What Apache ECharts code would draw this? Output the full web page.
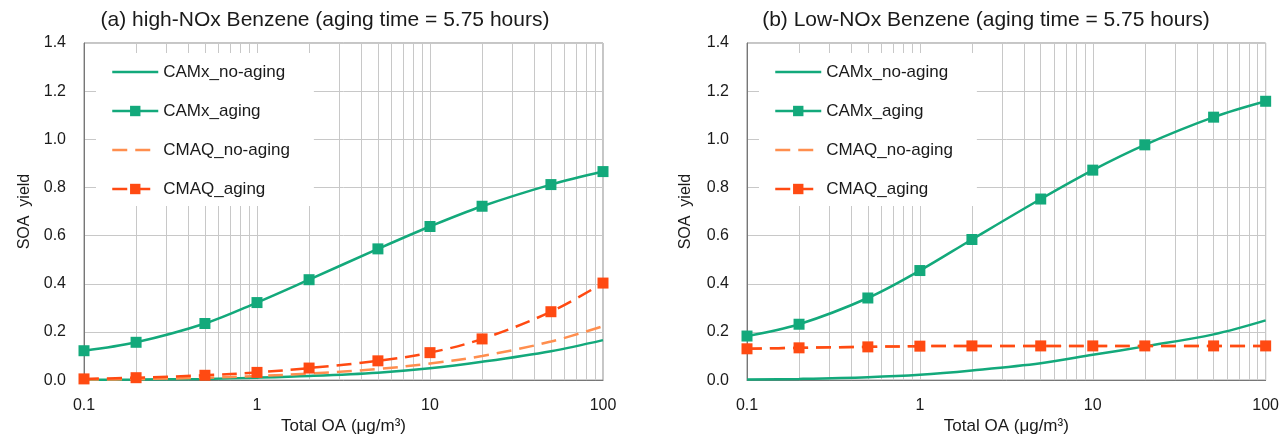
<!DOCTYPE html>
<html>
<head>
<meta charset="utf-8">
<script src="https://cdn.jsdelivr.net/npm/echarts@6/dist/echarts.min.js"></script>
<style>
  html, body {margin: 0; padding: 0; background: #fff;}
  #chart {width: 1282px; height: 440px;}
</style>
</head>
<body>
<div id="chart"></div>
<script>
  // total OA (ug/m3) sample points
  const oaValues = [0.1, 0.2, 0.5, 1, 2, 5, 10, 20, 50, 100];
  const minorGrid = [0.2, 0.3, 0.4, 0.5, 0.6, 0.7, 0.8, 0.9, 2, 3, 4, 5, 6, 7, 8, 9, 20, 30, 40, 50, 60, 70, 80, 90];
  const xTicks = ['0.1', '1', '10', '100'];
  const seriesNames = ['CAMx_no-aging', 'CAMx_aging', 'CMAQ_no-aging', 'CMAQ_aging'];
  const titles = [
    '(a) high-NOx Benzene (aging time = 5.75 hours)',
    '(b) Low-NOx Benzene (aging time = 5.75 hours)',
  ];

  // (a) high-NOx
  const highCamxNoAging = [0.001, 0.002, 0.005, 0.01, 0.017, 0.031, 0.049, 0.076, 0.12, 0.166];
  const highCamxAging = [0.122, 0.157, 0.235, 0.322, 0.417, 0.545, 0.638, 0.722, 0.812, 0.866];
  const highCmaqNoAging = [0.002, 0.004, 0.01, 0.017, 0.027, 0.046, 0.069, 0.1, 0.16, 0.224];
  const highCmaqAging = [0.005, 0.01, 0.02, 0.032, 0.05, 0.08, 0.114, 0.171, 0.284, 0.403];

  // (b) low-NOx
  const lowCamxNoAging = [0.002, 0.005, 0.012, 0.022, 0.04, 0.07, 0.105, 0.14, 0.19, 0.248];
  const lowCamxAging = [0.183, 0.232, 0.341, 0.455, 0.584, 0.752, 0.872, 0.977, 1.092, 1.158];
  const lowCmaqNoAging = [0.13, 0.134, 0.138, 0.141, 0.142, 0.142, 0.142, 0.142, 0.142, 0.142];
  const lowCmaqAging = [0.13, 0.134, 0.138, 0.141, 0.142, 0.142, 0.142, 0.142, 0.142, 0.142];

  const FONT = '"Liberation Sans", Arial, sans-serif';
  const GREEN = '#13a97b';
  const LIGHT_ORANGE = '#ff8e4e';
  const RED_ORANGE = '#ff4a12';
  const GRID_COLOR = '#c8c8c8';

  const pairs = (ys) => oaValues.map((x, i) => [x, ys[i]]);

  const panels = [
    {left: 84, right: 679, titleX: 320, nameGap: 51,
      data: [highCamxNoAging, highCamxAging, highCmaqNoAging, highCmaqAging]},
    {left: 747, right: 16, titleX: 981, nameGap: 53,
      data: [lowCamxNoAging, lowCamxAging, lowCmaqNoAging, lowCmaqAging]},
  ];

  const styles = [
    {color: GREEN, type: 'solid', symbol: 'none'},
    {color: GREEN, type: 'solid', symbol: 'rect'},
    {color: LIGHT_ORANGE, type: [15, 8], symbol: 'none'},
    {color: RED_ORANGE, type: [15, 8], symbol: 'rect'},
  ];

  const option = {
    animation: false,
    backgroundColor: '#fff',
    textStyle: {fontFamily: FONT},
    title: panels.map((p, i) => ({
      text: titles[i],
      left: p.titleX,
      top: 5,
      textAlign: 'center',
      textStyle: {fontFamily: FONT, fontSize: 21, fontWeight: 'normal', color: '#1a1a1a'},
    })),
    legend: panels.map((p) => ({
      // hide the symbol of the plain-line series in the legend
      data: seriesNames.map((name, si) => (
        styles[si].symbol === 'none' ? {name, itemStyle: {opacity: 0}} : {name}
      )),
      orient: 'vertical',
      left: p.left + 12,
      top: 53,
      padding: [9, 24, 7, 15],
      itemWidth: 46,
      itemHeight: 13,
      itemGap: 19,
      backgroundColor: '#fff',
      selectedMode: false,
      lineStyle: {width: 2.5},
      textStyle: {fontFamily: FONT, fontSize: 17, color: '#1a1a1a', lineHeight: 20},
      z: 4,
    })),
    grid: panels.map((p) => ({
      left: p.left, right: p.right, top: 43, bottom: 45,
      show: true, borderColor: '#8c8c8c', borderWidth: 1,
    })),
    xAxis: panels.map((p, i) => ({
      type: 'log',
      logBase: 10,
      gridIndex: i,
      min: 0.1,
      max: 100,
      name: 'Total OA (μg/m³)',
      nameLocation: 'middle',
      nameGap: 24,
      nameTextStyle: {fontFamily: FONT, fontSize: 17, color: '#1a1a1a'},
      axisLine: {lineStyle: {color: '#777', width: 1}},
      axisTick: {show: false},
      axisLabel: {
        fontFamily: FONT, fontSize: 16, color: '#1a1a1a', margin: 17,
        formatter: (v) => xTicks.find((t) => Math.abs(parseFloat(t) - v) < 1e-6 * v) || '',
      },
      splitLine: {show: true, lineStyle: {color: GRID_COLOR, width: 1}},
    })),
    yAxis: panels.map((p, i) => ({
      type: 'value',
      gridIndex: i,
      min: 0,
      max: 1.4,
      interval: 0.2,
      name: 'SOA  yield',
      nameLocation: 'middle',
      nameGap: p.nameGap,
      nameTextStyle: {fontFamily: FONT, fontSize: 16, color: '#1a1a1a'},
      axisLine: {show: true, lineStyle: {color: '#777', width: 1}},
      axisTick: {show: false},
      axisLabel: {fontFamily: FONT, fontSize: 16, color: '#1a1a1a', margin: 18,
        formatter: (v) => v.toFixed(1)},
      splitLine: {show: true, lineStyle: {color: GRID_COLOR, width: 1}},
    })),
    series: [],
  };

  panels.forEach((p, pi) => {
    seriesNames.forEach((name, si) => {
      const s = styles[si];
      const series = {
        name,
        type: 'line',
        xAxisIndex: pi,
        yAxisIndex: pi,
        data: pairs(p.data[si]),
        smooth: 0.35,
        symbol: s.symbol,
        symbolSize: 11,
        showSymbol: s.symbol !== 'none',
        lineStyle: {color: s.color, width: 2.5, type: s.type},
        itemStyle: {color: s.color},
        z: 2 + si,
      };
      if (si === 0) {
        series.markLine = {
          silent: true,
          symbol: 'none',
          z: 1,
          label: {show: false},
          lineStyle: {color: GRID_COLOR, width: 1, type: 'solid'},
          data: minorGrid.map((x) => ({xAxis: x})),
        };
      }
      option.series.push(series);
    });
  });

  const chart = echarts.init(document.getElementById('chart'), null, {renderer: 'canvas'});
  chart.setOption(option);
</script>
</body>
</html>
